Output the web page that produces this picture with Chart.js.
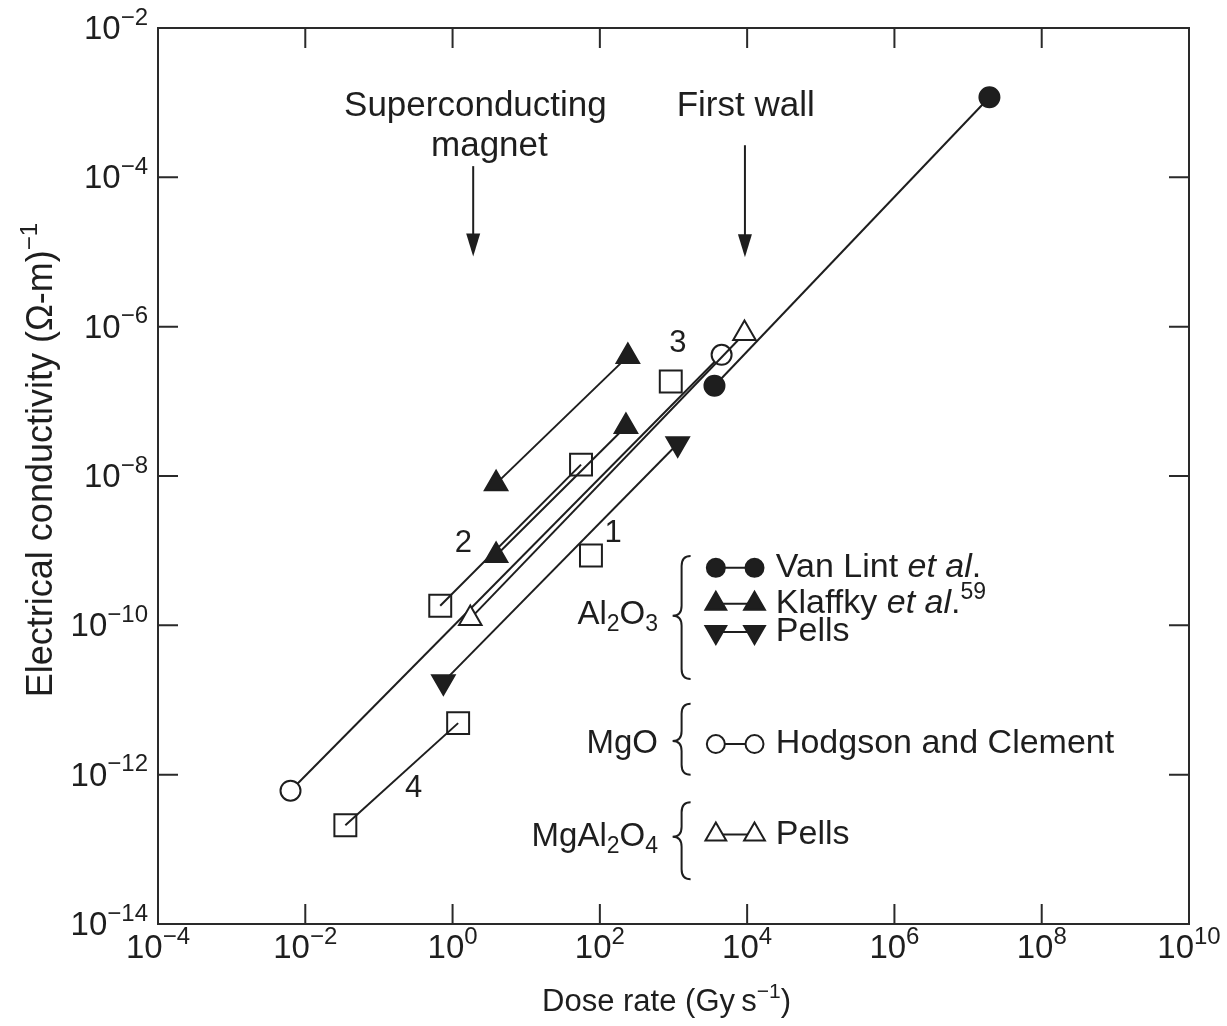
<!DOCTYPE html>
<html><head><meta charset="utf-8">
<script src="https://cdn.jsdelivr.net/npm/chart.js@4.4.0/dist/chart.umd.min.js"></script>
<style>html,body{margin:0;padding:0;background:#fff;}</style>
</head><body>
<canvas id="c" width="1227" height="1026"></canvas>
<script>
// ---------- data (dose rate Gy/s, conductivity (ohm m)^-1) ----------
const xTickExps = [-4, -2, 0, 2, 4, 6, 8, 10];
const yTickExps = [-2, -4, -6, -8, -10, -12, -14];

const vanLint   = [{x: 3.6e3, y: 1.62e-7}, {x: 1.95e7, y: 1.18e-3}];
const klaffkyA  = [{x: 3.9, y: 7.9e-9},   {x: 240, y: 4.0e-7}];
const klaffkyB  = [{x: 3.9, y: 8.6e-10},  {x: 226, y: 4.6e-8}];
const pellsAl   = [{x: 0.75, y: 1.75e-11}, {x: 1140, y: 2.7e-8}];
const mgo       = [{x: 6.3e-3, y: 6.1e-13}, {x: 4.5e3, y: 4.2e-7}];
const mgal      = [{x: 1.74, y: 1.23e-10}, {x: 9.2e3, y: 8.1e-7}];
const curve1    = [{x: 75.7, y: 8.6e-10}];
const curve2    = [{x: 0.68, y: 1.83e-10}, {x: 55.5, y: 1.42e-8}];
const curve3    = [{x: 918, y: 1.84e-7}];
const curve4    = [{x: 0.035, y: 2.1e-13}, {x: 1.19, y: 4.9e-12}];

const INK = '#1e1e1e';
const FONT = '"Liberation Sans", Arial, Helvetica, sans-serif';

function ds(data, style, fill, opts) {
  return Object.assign({
    data: data, showLine: true, borderColor: INK, borderWidth: 2,
    pointStyle: style, pointRadius: 10, pointHoverRadius: 10,
    pointBackgroundColor: fill, pointBorderColor: INK, pointBorderWidth: 2,
    pointRotation: 0
  }, opts || {});
}

const datasets = [
  ds(mgal, 'triangle', '#ffffff', {pointRadius: 13}),
  ds(mgo, 'circle', '#ffffff', {pointRadius: 10}),
  ds(vanLint, 'circle', INK, {pointRadius: 10}),
  ds(klaffkyA, 'triangle', INK, {pointRadius: 13}),
  ds(klaffkyB, 'triangle', INK, {pointRadius: 13}),
  ds(pellsAl, 'triangle', INK, {pointRadius: 13, pointRotation: 180}),
  ds(curve1, 'rect', 'rgba(0,0,0,0)', {pointRadius: 15.5, showLine: false}),
  ds(curve2, 'rect', 'rgba(0,0,0,0)', {pointRadius: 15.5}),
  ds(curve3, 'rect', 'rgba(0,0,0,0)', {pointRadius: 15.5, showLine: false}),
  ds(curve4, 'rect', 'rgba(0,0,0,0)', {pointRadius: 15.5})
];

// ---------- drawing helpers ----------
function runs(ctx, parts, x, y, align) {
  // parts: [text, size, dy, italic]
  let total = 0;
  const ws = parts.map(p => { ctx.font = (p[3] ? 'italic ' : '') + p[1] + 'px ' + FONT; const w = ctx.measureText(p[0]).width; total += w; return w; });
  let sx = x;
  if (align === 'center') sx = x - total / 2;
  else if (align === 'right') sx = x - total;
  ctx.textAlign = 'left'; ctx.textBaseline = 'middle';
  parts.forEach((p, i) => { ctx.font = (p[3] ? 'italic ' : '') + p[1] + 'px ' + FONT; ctx.fillText(p[0], sx, y + p[2]); sx += ws[i]; });
}
function pow10(ctx, e, x, y, align) {
  const s = e < 0 ? '\u2212' + (-e) : '' + e;
  runs(ctx, [['10', 33, 0], [s, 24, -12]], x, y, align);
}
function mark(ctx, style, x, y, r, fill) {
  ctx.beginPath();
  if (style === 'circle') ctx.arc(x, y, r, 0, Math.PI * 2);
  else if (style === 'tri') { ctx.moveTo(x, y - r); ctx.lineTo(x + 0.866 * r, y + 0.5 * r); ctx.lineTo(x - 0.866 * r, y + 0.5 * r); ctx.closePath(); }
  else if (style === 'triDown') { ctx.moveTo(x, y + r); ctx.lineTo(x + 0.866 * r, y - 0.5 * r); ctx.lineTo(x - 0.866 * r, y - 0.5 * r); ctx.closePath(); }
  ctx.fillStyle = fill; ctx.fill();
  ctx.lineWidth = 2; ctx.strokeStyle = INK; ctx.stroke();
}
function brace(ctx, x, top, mid, bottom) {
  const w = 9, r = 10;
  ctx.beginPath();
  ctx.moveTo(x + w, top);
  ctx.quadraticCurveTo(x, top, x, top + r);
  ctx.lineTo(x, mid - r);
  ctx.quadraticCurveTo(x, mid, x - w, mid);
  ctx.quadraticCurveTo(x, mid, x, mid + r);
  ctx.lineTo(x, bottom - r);
  ctx.quadraticCurveTo(x, bottom, x + w, bottom);
  ctx.lineWidth = 2; ctx.strokeStyle = INK; ctx.stroke();
}
function arrowDown(ctx, x, y0, y1) {
  ctx.beginPath(); ctx.moveTo(x, y0); ctx.lineTo(x, y1 - 18);
  ctx.lineWidth = 2; ctx.strokeStyle = INK; ctx.stroke();
  ctx.beginPath(); ctx.moveTo(x - 7, y1 - 23); ctx.lineTo(x + 7, y1 - 23); ctx.lineTo(x, y1); ctx.closePath();
  ctx.fillStyle = INK; ctx.fill();
}

const decor = {
  id: 'decor',
  afterDatasetsDraw(chart) {
    const ctx = chart.ctx, a = chart.chartArea;
    const X = chart.scales.x, Y = chart.scales.y;
    const px = lx => X.getPixelForValue(Math.pow(10, lx));
    const py = ly => Y.getPixelForValue(Math.pow(10, ly));
    ctx.save();
    // frame
    ctx.strokeStyle = '#2a2a2a'; ctx.lineWidth = 2;
    ctx.strokeRect(a.left, a.top, a.right - a.left, a.bottom - a.top);
    // inward ticks
    ctx.beginPath();
    xTickExps.forEach(e => { const x = px(e); ctx.moveTo(x, a.bottom); ctx.lineTo(x, a.bottom - 20); ctx.moveTo(x, a.top); ctx.lineTo(x, a.top + 20); });
    yTickExps.forEach(e => { const y = py(e); ctx.moveTo(a.left, y); ctx.lineTo(a.left + 20, y); ctx.moveTo(a.right, y); ctx.lineTo(a.right - 20, y); });
    ctx.stroke();
    // tick labels
    ctx.fillStyle = INK;
    xTickExps.forEach(e => pow10(ctx, e, px(e), a.bottom + 25, 'center'));
    yTickExps.forEach(e => pow10(ctx, e, a.left - 10, py(e) + 2, 'right'));
    // axis titles
    runs(ctx, [['Dose rate (Gy\u2009s', 31, 0], ['\u22121', 21, -10], [')', 31, 0]], (a.left + a.right) / 2 - 7, a.bottom + 78, 'center');
    ctx.save();
    ctx.translate(42, 460);
    ctx.rotate(-Math.PI / 2);
    runs(ctx, [['Electrical conductivity (\u03A9-m)', 36, 0], ['\u22121', 24, -12]], 0, 0, 'center');
    ctx.restore();
    // annotations
    runs(ctx, [['Superconducting', 35, 0]], px(0.31), py(-3.05), 'center');
    runs(ctx, [['magnet', 35, 0]], px(0.50), py(-3.58), 'center');
    runs(ctx, [['First wall', 35, 0]], px(3.98), py(-3.05), 'center');
    arrowDown(ctx, px(0.28), py(-3.85), py(-5.06));
    arrowDown(ctx, px(3.97), py(-3.57), py(-5.07));
    ctx.fillStyle = INK;
    runs(ctx, [['1', 31, 0]], px(2.18), py(-8.77), 'center');
    runs(ctx, [['2', 31, 0]], px(0.145), py(-8.91), 'center');
    runs(ctx, [['3', 31, 0]], px(3.06), py(-6.22), 'center');
    runs(ctx, [['4', 31, 0]], px(-0.53), py(-12.19), 'center');
    // legend
    runs(ctx, [['Al', 33, 0], ['2', 23, 10], ['O', 33, 0], ['3', 23, 10]], px(2.79), py(-9.86), 'right');
    runs(ctx, [['MgO', 33, 0]], px(2.79), py(-11.59), 'right');
    runs(ctx, [['MgAl', 33, 0], ['2', 23, 10], ['O', 33, 0], ['4', 23, 10]], px(2.79), py(-12.83), 'right');
    brace(ctx, px(3.11), py(-9.07), py(-9.87), py(-10.72));
    brace(ctx, px(3.11), py(-11.05), py(-11.55), py(-12.00));
    brace(ctx, px(3.11), py(-12.37), py(-12.83), py(-13.40));
    const m1 = px(3.575), m2 = px(4.10), tx = px(4.39);
    const rows = [
      {ly: -9.23, style: 'circle', r: 9, fill: INK, text: [['Van Lint ', 34, 0], ['et al', 34, 0, true], ['.', 34, 0]]},
      {ly: -9.71, style: 'tri', r: 12, fill: INK, text: [['Klaffky ', 34, 0], ['et al', 34, 0, true], ['.', 34, 0], ['59', 23, -11]]},
      {ly: -10.09, style: 'triDown', r: 12, fill: INK, text: [['Pells', 34, 0]]},
      {ly: -11.59, style: 'circle', r: 9, fill: '#ffffff', text: [['Hodgson and Clement', 34, 0]]},
      {ly: -12.80, style: 'tri', r: 12, fill: '#ffffff', text: [['Pells', 34, 0]]}
    ];
    rows.forEach(rw => {
      const y = py(rw.ly);
      ctx.beginPath(); ctx.moveTo(m1, y); ctx.lineTo(m2, y); ctx.lineWidth = 2; ctx.strokeStyle = INK; ctx.stroke();
      mark(ctx, rw.style, m1, y, rw.r, rw.fill);
      mark(ctx, rw.style, m2, y, rw.r, rw.fill);
      ctx.fillStyle = INK;
      runs(ctx, rw.text, tx, y, 'left');
    });
    ctx.restore();
  }
};

new Chart(document.getElementById('c'), {
  type: 'scatter',
  data: {datasets: datasets},
  options: {
    responsive: false, animation: false, devicePixelRatio: 1,
    layout: {padding: {left: 158, right: 38, top: 28, bottom: 102}},
    plugins: {legend: {display: false}, tooltip: {enabled: false}},
    scales: {
      x: {type: 'logarithmic', min: 1e-4, max: 1e10, display: false},
      y: {type: 'logarithmic', min: 1e-14, max: 1e-2, display: false}
    }
  },
  plugins: [decor]
});
</script>
</body></html>
